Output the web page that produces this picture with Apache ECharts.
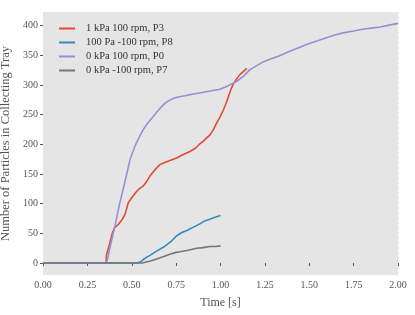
<!DOCTYPE html>
<html><head><meta charset="utf-8">
<script src="https://cdn.jsdelivr.net/npm/echarts@6/dist/echarts.min.js"></script>
<style>html,body{margin:0;padding:0;background:#fff}#c{width:415px;height:315px}</style>
</head><body><div id="c"></div>
<script>
const seriesNames = ['1 kPa 100 rpm, P3', '100 Pa -100 rpm, P8', '0 kPa 100 rpm, P0', '0 kPa -100 rpm, P7'];
const seriesColors = ['#E24A33', '#348ABD', '#988ED5', '#777777'];

const p3Time = [0, 0.355, 0.358, 0.366, 0.375, 0.39, 0.405, 0.424, 0.445, 0.462, 0.481, 0.50, 0.528, 0.545, 0.565, 0.585, 0.603, 0.63, 0.659, 0.70, 0.753, 0.79, 0.828, 0.86, 0.884, 0.905, 0.922, 0.941, 0.96, 0.978, 0.997, 1.016, 1.03, 1.044, 1.058, 1.072, 1.09, 1.11, 1.13, 1.148];
const p3Count = [0, 0, 14, 17, 32, 50, 60, 65, 73, 82, 102, 110, 121, 126, 130, 138, 147, 157, 166, 171, 177, 183, 188, 194, 201, 206, 211, 216, 225, 236, 246, 258, 268, 280, 292, 302, 310, 318, 323, 328];

const p8Time = [0, 0.53, 0.55, 0.565, 0.585, 0.603, 0.64, 0.68, 0.72, 0.753, 0.78, 0.81, 0.85, 0.884, 0.91, 0.94, 0.97, 1.0];
const p8Count = [0, 0, 2, 6, 10, 13, 20, 27, 36, 46, 51, 55, 61, 66, 71, 74, 77, 80];

const p0Time = [0, 0.355, 0.362, 0.38, 0.406, 0.43, 0.46, 0.49, 0.518, 0.54, 0.565, 0.59, 0.621, 0.645, 0.669, 0.69, 0.715, 0.74, 0.762, 0.80, 0.847, 0.89, 0.941, 0.997, 1.044, 1.09, 1.13, 1.166, 1.2, 1.24, 1.28, 1.33, 1.39, 1.44, 1.50, 1.56, 1.60, 1.64, 1.69, 1.75, 1.80, 1.85, 1.90, 1.95, 2.0];
const p0Count = [0, 0, 5, 30, 63, 98, 135, 174, 197, 211, 225, 236, 247, 256, 264, 270, 275, 278, 280, 282, 285, 287, 290, 293, 299, 306, 315, 326, 332, 339, 344, 349, 357, 363, 370, 376, 380, 384, 388, 391, 394, 396, 398, 401, 404];

const p7Time = [0, 0.56, 0.6, 0.64, 0.68, 0.715, 0.75, 0.772, 0.81, 0.866, 0.9, 0.941, 0.97, 1.0];
const p7Count = [0, 0, 3, 7, 11, 15, 18, 19, 21, 25, 26, 28, 28, 29];

const xTicks = [0, 0.25, 0.5, 0.75, 1.0, 1.25, 1.5, 1.75, 2.0];
const yTicks = [0, 50, 100, 150, 200, 250, 300, 350, 400];

const times = [p3Time, p8Time, p0Time, p7Time];
const counts = [p3Count, p8Count, p0Count, p7Count];

const font = 'Liberation Serif';
const chart = echarts.init(document.getElementById('c'), null, {renderer: 'canvas'});
chart.setOption({
  animation: false,
  backgroundColor: '#ffffff',
  grid: {left: 43, right: 17, top: 12, bottom: 40, show: true, backgroundColor: '#E5E5E5', borderWidth: 0, containLabel: false, outerBoundsMode: 'none'},
  legend: {
    orient: 'vertical', left: 54, top: 17, itemWidth: 16, itemHeight: 2, itemGap: 1,
    icon: 'rect',
    textStyle: {fontFamily: font, fontSize: 10.5, color: '#333', lineHeight: 13, padding: [0, 0, 0, 6]},
    data: seriesNames
  },
  xAxis: {
    type: 'value', min: 0, max: 2, interval: 0.25,
    name: 'Time [s]', nameLocation: 'middle', nameGap: 22,
    nameTextStyle: {fontFamily: font, fontSize: 12, color: '#555'},
    axisLine: {show: false},
    axisTick: {show: true, length: 3, lineStyle: {color: '#555'}},
    axisLabel: {fontFamily: font, fontSize: 10, color: '#555', margin: 5, formatter: v => v.toFixed(2), customValues: xTicks},
    splitLine: {show: true, lineStyle: {color: '#f2dede', type: [2, 3], width: 0.8}}
  },
  yAxis: {
    type: 'value', min: -20.15, max: 423.15,
    name: 'Number of Particles in Collecting Tray', nameLocation: 'middle', nameGap: 24,
    nameTextStyle: {fontFamily: font, fontSize: 12.5, color: '#555'},
    axisLine: {show: false},
    axisTick: {show: true, length: 3, lineStyle: {color: '#555'}, customValues: yTicks},
    axisLabel: {fontFamily: font, fontSize: 10, color: '#555', margin: 5, customValues: yTicks},
    splitLine: {show: true, lineStyle: {color: '#f2dede', type: [2, 3], width: 0.8}}
  },
  series: seriesNames.map((n, i) => ({
    name: n, type: 'line', showSymbol: false, symbol: 'none',
    color: seriesColors[i],
    lineStyle: {width: 1.6, color: seriesColors[i]},
    data: times[i].map((t, k) => [t, counts[i][k]])
  }))
});
</script></body></html>
